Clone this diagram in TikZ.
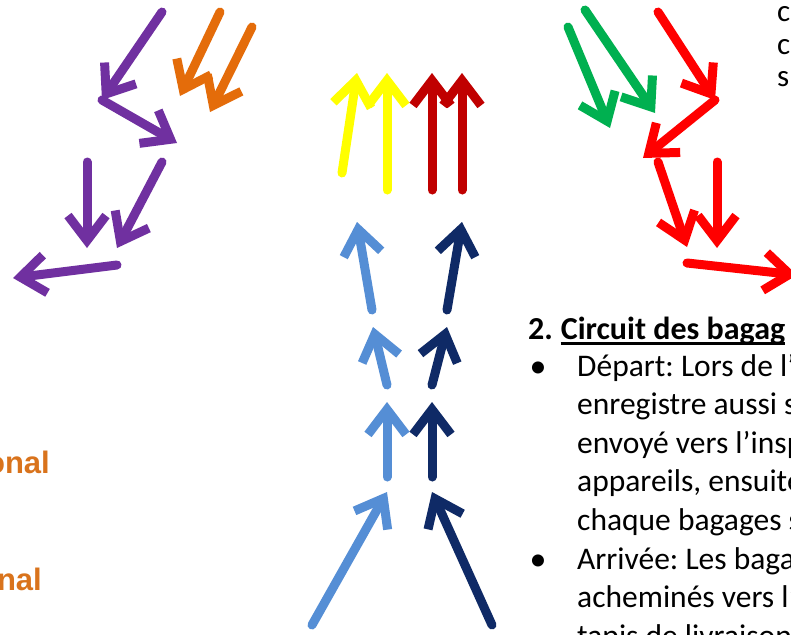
\documentclass[tikz,border=0pt]{standalone}
\usepackage{fontspec}
\setmainfont{Carlito}
\newfontfamily\lsans{Liberation Sans}
\usetikzlibrary{arrows.meta}
\definecolor{cpurple}{HTML}{7030A0}
\definecolor{corange}{HTML}{E46C0A}
\definecolor{cyellow}{HTML}{FFFF00}
\definecolor{cdred}{HTML}{C00000}
\definecolor{cred}{HTML}{FF0000}
\definecolor{cgreen}{HTML}{00B050}
\definecolor{clblue}{HTML}{558ED5}
\definecolor{cnavy}{HTML}{0F2A66}
\definecolor{corgtext}{HTML}{D9731C}
\frenchspacing
\begin{document}
\begin{tikzpicture}[x=1pt,y=-1pt,
  arr/.style={line width=9pt, line cap=round, -{Straight Barb[length=25pt,width=38pt]}},
  body/.style={anchor=base west, inner sep=0pt, font=\fontsize{31.5}{38}\selectfont},
  frag/.style={anchor=base west, inner sep=0pt, font=\fontsize{31}{36}\selectfont},
  head/.style={anchor=base west, inner sep=0pt, font=\fontsize{32}{38}\selectfont\bfseries},
  bul/.style={anchor=base, inner sep=0pt, font=\fontsize{34}{38}\selectfont},
  lbl/.style={anchor=base east, inner sep=0pt, text=corgtext, font=\fontsize{31}{36}\selectfont\lsans\bfseries}
]
\useasboundingbox (0,0) rectangle (791,634);
\clip (0,0) rectangle (791,634);
\fill[white] (0,0) rectangle (791,634);

% purple chain
\draw[arr, cpurple] (162,12) -- (102,100);
\draw[arr, cpurple] (102,100) -- (177,143);
\draw[arr, cpurple] (87,162) -- (87,248);
\draw[arr, cpurple] (162,162) -- (117,248);
\draw[arr, cpurple] (117,265) -- (13,278);
% orange
\draw[arr, corange] (220,12) -- (180,96);
\draw[arr, corange] (252,27) -- (210,112);
% yellow and dark red
\draw[arr, cyellow] (342,173) -- (357,73);
\draw[arr, cyellow] (387,190) -- (387,73);
\draw[arr, cdred] (432,190) -- (432,73);
\draw[arr, cdred] (462,190) -- (462,73);
% blue columns
\draw[arr, clblue] (372,310) -- (357,222);
\draw[arr, cnavy] (447,310) -- (462,222);
\draw[arr, clblue] (387,385) -- (373,327);
\draw[arr, cnavy] (432,385) -- (447,327);
\draw[arr, clblue] (387,477) -- (387,402);
\draw[arr, cnavy] (432,477) -- (432,402);
\draw[arr, clblue] (312,625) -- (387,492);
\draw[arr, cnavy] (492,625) -- (432,492);
% green
\draw[arr, cgreen] (568,27) -- (610,128);
\draw[arr, cgreen] (585,10) -- (655,113);
% red chain
\draw[arr, cred] (658,12) -- (715,100);
\draw[arr, cred] (715,100) -- (643,158);
\draw[arr, cred] (658,162) -- (687,247);
\draw[arr, cred] (717,162) -- (717,248);
\draw[arr, cred] (687,263) -- (797,275);

% text fragments top right
\node[frag] (f1) at (777,22) {c};
\node[frag] (f2) at (777,54) {c};
\node[frag] (f3) at (777,86) {s};

% heading and bullets
\node[head] (h) at (528,339) {2.};
\node[head] (hc) at ([xshift=7.5pt]h.base east) {Circuit des bagag};
\draw[line width=2.4pt] ([yshift=-4.5pt]hc.base west) -- ([yshift=-4.5pt]hc.base east);
\node[bul] (b1) at (538,377) {•};
\node[body] (l1) at (577,376) {Départ: Lors de l’};
\node[body] (l2) at (577,414.6) {enregistre aussi s};
\node[body] (l3) at (577,453.2) {envoyé vers l’insp};
\node[body] (l4) at (577,491.8) {appareils, ensuite};
\node[body] (l5) at (577,530.4) {chaque bagages s};
\node[bul] (b2) at (538,570) {•};
\node[body] (l6) at (577,569) {Arrivée: Les baga};
\node[body] (l7) at (577,607.6) {acheminés vers l’};
\node[body] (l8) at (577,646.2) {tapis de livraison};

% left labels
\node[lbl] (o1) at (50,473) {onal};
\node[lbl] (o2) at (42,590) {nal};
\end{tikzpicture}
\end{document}
